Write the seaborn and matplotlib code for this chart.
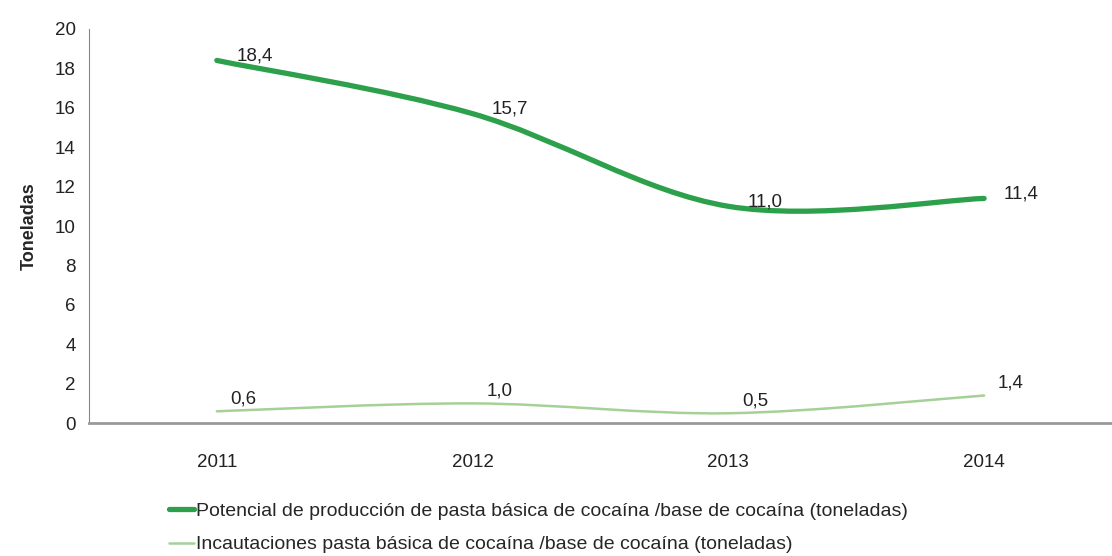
import matplotlib
matplotlib.use('Agg')
import matplotlib.pyplot as plt
import seaborn as sns
import numpy as np
from matplotlib.path import Path
from matplotlib.patches import PathPatch
from matplotlib.lines import Line2D

years = ['2011', '2012', '2013', '2014']
produccion = [18.4, 15.7, 11.0, 11.4]
incautaciones = [0.6, 1.0, 0.5, 1.4]
label_prod = 'Potencial de producción de pasta básica de cocaína /base de cocaína (toneladas)'
label_inc = 'Incautaciones pasta básica de cocaína /base de cocaína (toneladas)'

sns.set_style('white')
plt.rcParams['font.family'] = ['Liberation Sans', 'DejaVu Sans']


def smooth_path(xs, ys):
    # Excel-style smoothed line: cubic Bezier through each point
    pts = np.column_stack([xs, ys]).astype(float)
    ext = np.vstack([pts[0], pts, pts[-1]])
    verts = [pts[0]]
    codes = [Path.MOVETO]
    for i in range(len(pts) - 1):
        p0, p1, p2, p3 = ext[i], ext[i + 1], ext[i + 2], ext[i + 3]
        verts += [p1 + (p2 - p0) / 6, p2 - (p3 - p1) / 6, p2]
        codes += [Path.CURVE4] * 3
    return Path(verts, codes)


fig, ax = plt.subplots(figsize=(11.12, 5.56), dpi=100)
fig.subplots_adjust(left=0.080, right=1.0, top=0.948, bottom=0.239)

x = np.arange(len(years))
green = '#2ca04a'
light = '#a5d096'

# invisible seaborn lines set up the scales
sns.lineplot(x=x, y=produccion, ax=ax, linewidth=0)
sns.lineplot(x=x, y=incautaciones, ax=ax, linewidth=0)

ax.add_patch(PathPatch(smooth_path(x, produccion), facecolor='none',
                       edgecolor=green, lw=3.8, capstyle='round', zorder=3))
ax.add_patch(PathPatch(smooth_path(x, incautaciones), facecolor='none',
                       edgecolor=light, lw=1.8, capstyle='round', zorder=3))

for xi, v in zip(x, produccion):
    ax.annotate(f'{v:.1f}'.replace('.', ','), (xi, v), xytext=(14, 3),
                textcoords='offset points', ha='left', va='center', fontsize=13.5, color='#222222', zorder=4)
for xi, v in zip(x, incautaciones):
    ax.annotate(f'{v:.1f}'.replace('.', ','), (xi, v), xytext=(10, 9),
                textcoords='offset points', ha='left', va='center', fontsize=13.5, color='#222222', zorder=4)

ax.set_xlim(-0.5, 3.5)
ax.set_ylim(0, 20)
ax.set_yticks(range(0, 21, 2))
ax.set_xticks(x)
ax.set_xticklabels(years)
ax.set_xticks([0.5, 1.5, 2.5], minor=True)
ax.tick_params(axis='x', which='major', length=0, pad=22, labelsize=13.5, colors='#222222')
ax.tick_params(axis='x', which='minor', length=7, width=1, color='#888888', direction='out')
ax.tick_params(axis='y', length=6, width=1, color='#888888', direction='out', labelsize=13.5, colors='#222222')
for lbl in ax.get_yticklabels():
    lbl.set_color('#222222')

for s in ['top', 'right']:
    ax.spines[s].set_visible(False)
ax.spines['left'].set_color('#888888')
ax.spines['bottom'].set_color('#999999')
ax.spines['bottom'].set_linewidth(2)
ax.set_xlabel('')
ax.set_ylabel('Toneladas', fontsize=13, fontweight='bold', labelpad=12)

handles = [Line2D([], [], color=green, lw=3.8), Line2D([], [], color=light, lw=1.8)]
fig.legend(handles, [label_prod, label_inc], loc='upper left', bbox_to_anchor=(0.145, 0.11),
           frameon=False, fontsize=14, handlelength=1.3, handletextpad=0.1, labelspacing=0.8,
           borderaxespad=0)

fig.savefig('out.png', dpi=100)
